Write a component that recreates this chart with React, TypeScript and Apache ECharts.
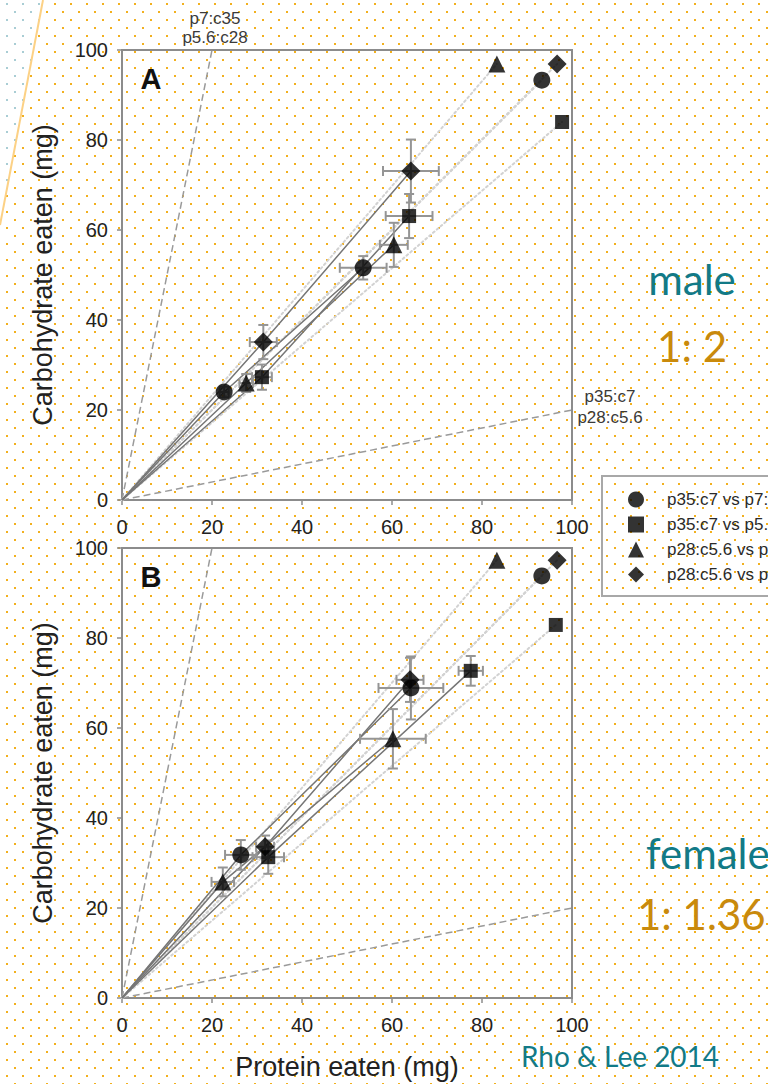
import React, { useEffect, useRef } from "react";
import * as echarts from "echarts";

// ---------- data ----------
const groupNames = [
  "p35:c7 vs p7:c35",
  "p35:c7 vs p5.6:c28",
  "p28:c5.6 vs p7:c35",
  "p28:c5.6 vs p5.6:c28",
];
const groupSymbols = ["circle", "rect", "triangle", "diamond"];
const groupSymbolSizes = [17, 14, 17, 19];

const axisTicks = [0, 20, 40, 60, 80, 100];

// [protein, carbohydrate, protein SE, carbohydrate SE] — first and second time points
const maleCircle = [[22.7, 24.0, 1.0, 1.2], [53.6, 51.6, 5.2, 2.6]];
const maleSquare = [[31.1, 27.3, 2.2, 2.8], [63.8, 63.1, 5.2, 4.9]];
const maleTriangle = [[27.6, 26.0, 1.5, 2.0], [60.4, 56.7, 3.1, 4.9]];
const maleDiamond = [[31.4, 35.1, 3.0, 3.8], [64.2, 73.1, 6.2, 7.0]];

const femaleCircle = [[26.4, 31.8, 3.5, 3.3], [64.2, 68.9, 7.2, 7.0]];
const femaleSquare = [[32.5, 31.3, 3.5, 3.7], [77.5, 72.7, 2.7, 3.3]];
const femaleTriangle = [[22.4, 25.8, 2.5, 3.2], [60.2, 57.6, 7.3, 6.6]];
const femaleDiamond = [[31.8, 33.6, 2.0, 2.5], [64.0, 70.7, 3.0, 4.9]];

// expected intake if eating randomly between the two diets (end points of dotted rails)
const maleExpected = [[93.3, 93.3], [97.8, 84.0], [83.3, 96.9], [96.7, 96.9]];
const femaleExpected = [[93.3, 93.8], [96.4, 82.9], [83.3, 97.3], [96.7, 97.3]];

// diet rails
const railHighCarb = [[0, 0], [20, 100]];
const railHighProtein = [[0, 0], [100, 20]];

const panels = [
  { groups: [maleCircle, maleSquare, maleTriangle, maleDiamond], expected: maleExpected },
  { groups: [femaleCircle, femaleSquare, femaleTriangle, femaleDiamond], expected: femaleExpected },
];

const FONT = '"Liberation Sans", Arial, sans-serif';
const SLIDE_FONT = 'Lato, "Open Sans", sans-serif';

function dotPattern(color: string) {
  const svg = `<svg xmlns='http://www.w3.org/2000/svg' width='16' height='16'><rect x='6' y='3' width='2' height='2' fill='${color}'/><rect x='14' y='11' width='2' height='2' fill='${color}'/></svg>`;
  return `url("data:image/svg+xml;utf8,${encodeURIComponent(svg)}")`;
}

export default function App() {
  const ref = useRef<HTMLDivElement>(null);

  useEffect(() => {
    if (!ref.current) return;
    const chart = echarts.init(ref.current, null, { renderer: "svg" });

    const grids = [
      { left: 122, top: 50, width: 450, height: 450 },
      { left: 122, top: 548, width: 450, height: 450 },
    ];

    const axisCommon = {
      type: "value",
      min: 0,
      max: 100,
      interval: 20,
      splitLine: { show: false },
      axisLine: { show: true, lineStyle: { color: "#8c8c8c", width: 2 } },
      axisTick: { show: true, inside: false, length: 5, lineStyle: { color: "#8c8c8c", width: 1.5 } },
    };

    const xAxis = [0, 1].map((i) => ({
      ...axisCommon,
      gridIndex: i,
      axisLabel: {
        fontSize: 20,
        color: "#222",
        fontFamily: FONT,
        margin: 17,
        formatter: (v: number) => (axisTicks.includes(v) ? String(v) : ""),
      },
      name: i === 1 ? "Protein eaten (mg)" : "",
      nameLocation: "middle",
      nameGap: 55,
      nameTextStyle: { fontSize: 27, color: "#222", fontFamily: FONT },
    }));

    const yAxis = [0, 1].map((i) => ({
      ...axisCommon,
      gridIndex: i,
      axisLabel: { fontSize: 20, color: "#222", fontFamily: FONT, margin: 14 },
      name: "Carbohydrate eaten (mg)",
      nameLocation: "middle",
      nameGap: 66,
      nameTextStyle: { fontSize: 27, color: "#222", fontFamily: FONT },
    }));

    const series: any[] = [];
    panels.forEach((panel, p) => {
      const ax = { xAxisIndex: p, yAxisIndex: p };
      [railHighCarb, railHighProtein].forEach((rail) => {
        series.push({
          type: "line",
          ...ax,
          data: rail,
          showSymbol: false,
          silent: true,
          z: 1,
          lineStyle: { color: "#9a9a9a", width: 1.5, type: [7, 4] },
        });
      });
      panel.expected.forEach((pt) => {
        series.push({
          type: "line",
          ...ax,
          data: [[0, 0], pt],
          showSymbol: false,
          silent: true,
          z: 1,
          lineStyle: { color: "#d2d2d2", width: 2, type: [2, 3], cap: "round" },
        });
      });
      panel.groups.forEach((g) => {
        series.push({
          type: "line",
          ...ax,
          data: [[0, 0], ...g.map((d) => [d[0], d[1]])],
          showSymbol: false,
          silent: true,
          z: 2,
          lineStyle: { color: "#767676", width: 1.5 },
        });
        series.push({
          type: "custom",
          ...ax,
          data: g,
          encode: { x: 0, y: 1 },
          silent: true,
          z: 3,
          renderItem: (params: any, api: any) => {
            const x = api.value(0);
            const y = api.value(1);
            const ex = api.value(2);
            const ey = api.value(3);
            const l = api.coord([x - ex, y]);
            const r = api.coord([x + ex, y]);
            const t = api.coord([x, y + ey]);
            const b = api.coord([x, y - ey]);
            const cap = 5;
            const st = { stroke: "#959595", lineWidth: 2 };
            return {
              type: "group",
              children: [
                { type: "line", shape: { x1: l[0], y1: l[1], x2: r[0], y2: r[1] }, style: st },
                { type: "line", shape: { x1: t[0], y1: t[1], x2: b[0], y2: b[1] }, style: st },
                { type: "line", shape: { x1: l[0], y1: l[1] - cap, x2: l[0], y2: l[1] + cap }, style: st },
                { type: "line", shape: { x1: r[0], y1: r[1] - cap, x2: r[0], y2: r[1] + cap }, style: st },
                { type: "line", shape: { x1: t[0] - cap, y1: t[1], x2: t[0] + cap, y2: t[1] }, style: st },
                { type: "line", shape: { x1: b[0] - cap, y1: b[1], x2: b[0] + cap, y2: b[1] }, style: st },
              ],
            };
          },
        });
      });
      panel.groups.forEach((g, k) => {
        series.push({
          type: "scatter",
          name: groupNames[k],
          ...ax,
          symbol: groupSymbols[k],
          symbolSize: groupSymbolSizes[k],
          itemStyle: { color: "#000" },
          z: 4,
          data: [...g.map((d) => [d[0], d[1]]), panel.expected[k]],
        });
      });
    });

    const txt = (x: number, y: number, text: string, style: any) => ({
      type: "text",
      x,
      y,
      silent: true,
      style: { text, ...style },
    });
    const railLabel = { fontSize: 17, fill: "#3a3a3a", fontFamily: FONT, align: "center", verticalAlign: "middle" };
    const slideBig = { fontSize: 42, fontFamily: SLIDE_FONT, verticalAlign: "alphabetic" };

    chart.setOption({
      animation: false,
      backgroundColor: "transparent",
      grid: grids.map((g) => ({ ...g, show: true, borderColor: "#8c8c8c", borderWidth: 2, backgroundColor: "transparent" })),
      xAxis,
      yAxis,
      legend: {
        orient: "vertical",
        left: 602,
        top: 476,
        data: groupNames,
        itemWidth: 16,
        itemHeight: 16,
        itemGap: 8,
        padding: [15, 10, 13, 26],
        borderColor: "#a8a8a8",
        borderWidth: 2,
        selectedMode: false,
        textStyle: { fontSize: 17, color: "#2a2a2a", fontFamily: FONT, padding: [0, 0, 0, 18] },
      },
      graphic: [
        { type: "line", silent: true, shape: { x1: 43, y1: 0, x2: 0, y2: 225 }, style: { stroke: "#fcd185", lineWidth: 2 } },
        txt(151, 79, "A", { fontSize: 29, fontWeight: "bold", fill: "#111", fontFamily: FONT, align: "center", verticalAlign: "middle" }),
        txt(151, 577, "B", { fontSize: 29, fontWeight: "bold", fill: "#111", fontFamily: FONT, align: "center", verticalAlign: "middle" }),
        txt(215, 18, "p7:c35", railLabel),
        txt(215, 37, "p5.6:c28", railLabel),
        txt(610, 396, "p35:c7", railLabel),
        txt(610, 417, "p28:c5.6", railLabel),
        txt(692, 258, "male", { ...slideBig, fill: "#127a87", align: "center" }),
        txt(692, 325, "1: 2", { ...slideBig, fill: "#c98a0c", align: "center" }),
        txt(646, 832, "female", { ...slideBig, fill: "#127a87", align: "left" }),
        txt(637, 893, "1: 1.36", { ...slideBig, fill: "#c98a0c", align: "left" }),
        txt(620, 1056, "Rho & Lee 2014", { fontSize: 28, fontFamily: SLIDE_FONT, fill: "#127a87", align: "center", verticalAlign: "middle" }),
      ],
      series,
    });

    return () => chart.dispose();
  }, []);

  return (
    <div
      style={{
        position: "absolute",
        left: 0,
        top: 0,
        width: 768,
        height: 1084,
        overflow: "hidden",
        backgroundColor: "#fff",
        backgroundImage: dotPattern("#f2b01e"),
      }}
    >
      <div
        style={{
          position: "absolute",
          left: 0,
          top: 0,
          width: 768,
          height: 1084,
          backgroundColor: "#fff",
          backgroundImage: dotPattern("#a9cdd4"),
          clipPath: "polygon(0px 0px, 43px 0px, 0px 225px)",
        }}
      />
      <div ref={ref} style={{ position: "absolute", left: 0, top: 0, width: 768, height: 1084 }} />
    </div>
  );
}
